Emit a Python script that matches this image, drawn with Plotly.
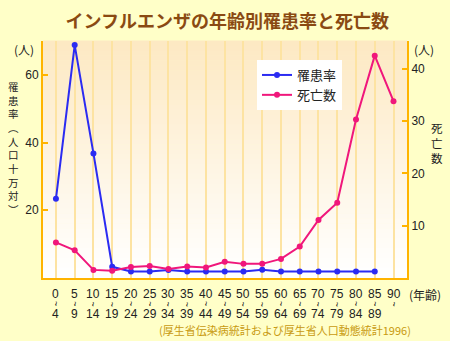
import plotly.graph_objects as go

# ---- data ----
age_start = ["0", "5", "10", "15", "20", "25", "30", "35", "40", "45",
             "50", "55", "60", "65", "70", "75", "80", "85", "90"]
age_end = ["4", "9", "14", "19", "24", "29", "34", "39", "44", "49",
           "54", "59", "64", "69", "74", "79", "84", "89", ""]
morbidity = [23.4, 68.8, 36.8, 3.3, 1.9, 1.9, 2.35, 1.9, 1.9, 1.9,
             1.9, 2.4, 1.9, 1.9, 1.9, 1.9, 1.9, 1.9, None]
deaths = [6.8, 5.3, 1.55, 1.4, 2.1, 2.3, 1.7, 2.2, 2.0, 3.1,
          2.7, 2.7, 3.65, 6.0, 11.1, 14.4, 30.3, 42.5, 33.8]
left_ticks = [20, 40, 60]
right_ticks = [10, 20, 30, 40]

title_text = "インフルエンザの年齢別罹患率と死亡数"
left_title = ["罹", "患", "率", "︵", "人", "口", "十", "万", "対", "︶"]
right_title = ["死", "亡", "数"]
source_text = "(厚生省伝染病統計および厚生省人口動態統計1996)"

FONT = "Liberation Sans, Noto Sans CJK JP, sans-serif"
JFONT = "Noto Sans CJK JP, Liberation Sans, sans-serif"
BLUE = "#2B2BF2"
PINK = "#F0177B"
ORANGE = "#FFB400"
GRID = "#FDE3A2"

# plot-area geometry in pixels (for converting paper coordinates)
PL, PR, PT, PB = 43, 407, 41, 278

x = list(range(len(age_start)))

fig = go.Figure()
fig.add_trace(go.Scatter(
    x=x, y=morbidity, name="罹患率", mode="lines+markers",
    line=dict(color=BLUE, width=2), marker=dict(color=BLUE, size=6),
    yaxis="y", cliponaxis=False))
fig.add_trace(go.Scatter(
    x=x, y=deaths, name="死亡数", mode="lines+markers",
    line=dict(color=PINK, width=2), marker=dict(color=PINK, size=6),
    yaxis="y2", cliponaxis=False))

# gradient plot background (bands)
shapes = []
N = 48
top = (253, 233, 195)
bot = (255, 255, 255)
for i in range(N):
    f = i / (N - 1)
    c = tuple(round(top[k] + (bot[k] - top[k]) * f) for k in range(3))
    shapes.append(dict(type="rect", xref="paper", yref="paper",
                       x0=0, x1=1, y0=1 - (i + 1) / N, y1=1 - i / N + 0.002,
                       fillcolor="rgb(%d,%d,%d)" % c, line=dict(width=0),
                       layer="below"))


def px(xp, yp):
    return dict(x=(xp - PL) / (PR - PL), y=(PB - yp) / (PB - PT))


annotations = []
# x tick labels (start ~ end)
for i in x:
    annotations.append(dict(x=i, y=0, xref="x", yref="paper", text=age_start[i],
                            showarrow=False, yanchor="middle", yshift=-16,
                            font=dict(family=FONT, size=12, color="#222222")))
    annotations.append(dict(x=i, y=0, xref="x", yref="paper", text="~",
                            textangle=90, showarrow=False, yanchor="middle",
                            yshift=-26, font=dict(family=FONT, size=9, color="#222222")))
    if age_end[i]:
        annotations.append(dict(x=i, y=0, xref="x", yref="paper", text=age_end[i],
                                showarrow=False, yanchor="middle", yshift=-36,
                                font=dict(family=FONT, size=12, color="#222222")))

# (年齢)
annotations.append(dict(**px(425, 294), xref="paper", yref="paper", text="(年齢)",
                        showarrow=False, xanchor="center", yanchor="middle",
                        font=dict(family=JFONT, size=12, color="#222222")))
# (人) units
annotations.append(dict(**px(24, 49), xref="paper", yref="paper", text="(人)",
                        showarrow=False, xanchor="center", yanchor="middle",
                        font=dict(family=JFONT, size=12, color="#222222")))
annotations.append(dict(**px(424, 49), xref="paper", yref="paper", text="(人)",
                        showarrow=False, xanchor="center", yanchor="middle",
                        font=dict(family=JFONT, size=12, color="#222222")))
# left vertical title (stacked characters)
annotations.append(dict(**px(13, 148), xref="paper", yref="paper",
                        text="<br>".join(left_title), showarrow=False,
                        xanchor="center", yanchor="middle", align="center",
                        font=dict(family=JFONT, size=10.5, color="#222222")))
# right vertical title
annotations.append(dict(**px(437, 143), xref="paper", yref="paper",
                        text="<br>".join(right_title), showarrow=False,
                        xanchor="center", yanchor="middle", align="center",
                        font=dict(family=JFONT, size=11.5, color="#222222")))
# source
annotations.append(dict(**px(285, 330), xref="paper", yref="paper", text=source_text,
                        showarrow=False, xanchor="center", yanchor="middle",
                        font=dict(family=JFONT, size=11, color="#C89A10")))

fig.update_layout(
    width=450, height=341,
    margin=dict(l=PL, r=450 - PR, t=PT, b=341 - PB),
    paper_bgcolor="#FFFFC8",
    plot_bgcolor="rgba(0,0,0,0)",
    title=dict(text=title_text, x=0.505, xanchor="center", y=1 - 22 / 341,
               yanchor="middle",
               font=dict(family=JFONT, size=18, color="#8A4A12", weight="bold")),
    font=dict(family=FONT, size=12, color="#222222"),
    showlegend=True,
    legend=dict(x=(257 - PL) / (PR - PL), y=(PB - 60) / (PB - PT),
                xanchor="left", yanchor="top",
                bgcolor="white", borderwidth=0,
                font=dict(family=JFONT, size=13, color="#222222")),
    xaxis=dict(range=[-0.69, 18.72], tickvals=x, showticklabels=False,
               showgrid=True, gridcolor=GRID, gridwidth=1.5, zeroline=False,
               showline=True, linecolor=ORANGE, linewidth=2, ticks=""),
    yaxis=dict(range=[0, 70], tickvals=left_ticks, showgrid=False, zeroline=False,
               showline=True, linecolor=ORANGE, linewidth=2,
               ticks="inside", ticklen=5, tickcolor=ORANGE, tickwidth=2,
               tickfont=dict(family=FONT, size=12, color="#222222")),
    yaxis2=dict(range=[0, 45.3], tickvals=right_ticks, overlaying="y", side="right",
                showgrid=False, zeroline=False, showline=True, linecolor=ORANGE,
                linewidth=2, ticks="inside", ticklen=5, tickcolor=ORANGE, tickwidth=2,
                tickfont=dict(family=FONT, size=12, color="#222222")),
    shapes=shapes,
    annotations=annotations,
)

fig.write_html("out.html")
